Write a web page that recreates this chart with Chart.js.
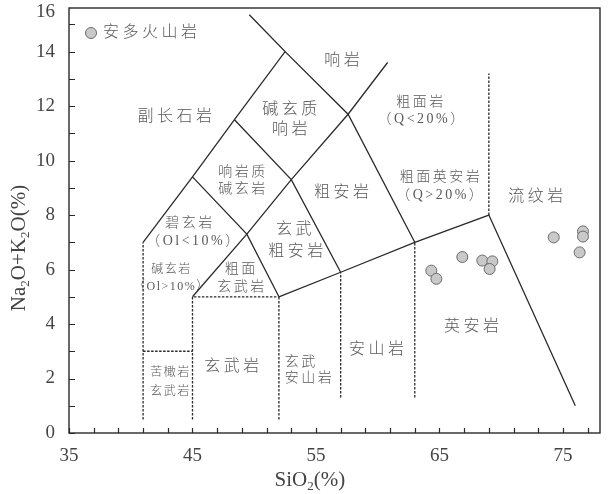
<!DOCTYPE html>
<html><head><meta charset="utf-8">
<script src="https://cdn.jsdelivr.net/npm/chart.js@4.4.1/dist/chart.umd.min.js"></script>
<style>html,body{margin:0;padding:0;background:#fff;overflow:hidden}</style>
</head><body>
<canvas id="c" width="611" height="494"></canvas>
<script>
// ---- data ----
const seriesName = '安多火山岩';
const sio2   = [64.34, 64.75, 66.85, 68.47, 69.28, 69.06, 74.25, 76.62, 76.62, 76.35];
const alkali = [5.96, 5.66, 6.46, 6.33, 6.30, 6.02, 7.18, 7.40, 7.21, 6.63];

const xTickValues = [35,37,39,41,43,45,47,49,51,53,55,57,59,61,63,65,67,69,71,73,75,77];
const xLabelValues = [35,45,55,65,75];
const yTickValues = [0,1,2,3,4,5,6,7,8,9,10,11,12,13,14,15,15.45];
const yLabelValues = [0,2,4,6,8,10,12,14,15.45];
const yTickLabels  = ['0','2','4','6','8','10','12','14','16'];
const xTitle = 'SiO₂(%)';
const yTitle = 'Na₂O+K₂O(%)';

// TAS field boundaries [SiO2, Na2O+K2O]
const solidBoundaries = [
  [[41,7],[45,9.4],[48.4,11.5],[52.5,14],[49.6,15.35]],
  [[45,5],[49.4,7.3],[53,9.3],[57.6,11.7],[60.8,13.6]],
  [[52,5],[49.4,7.3],[45,9.4]],
  [[57,5.9],[53,9.3],[48.4,11.5]],
  [[63,7],[57.6,11.7],[52.5,14]],
  [[52,5],[57,5.9],[63,7],[69,8],[76,1]]
];
const dashedBoundaries = [
  [[41,0.5],[41,7]],
  [[41,3],[45,3]],
  [[45,0.5],[45,5],[52,5]],
  [[52,0.5],[52,5]],
  [[57,1.3],[57,5.9]],
  [[63,1.3],[63,7]],
  [[69,8],[69,13.2]]
];

// field names [text, SiO2, alkali, size, align]
const fieldLabels = [
  ['副长石岩', 43.56, 11.60, 'L'],
  ['响岩', 57.1, 13.66, 'L'],
  ['碱玄质', 52.87, 11.86, 'L'],
  ['响岩', 52.87, 11.13, 'L'],
  ['响岩质', 48.98, 9.55, 'M'],
  ['碱玄岩', 48.98, 8.93, 'M'],
  ['粗面岩', 63.4, 12.12, 'M'],
  ['（Q<20%）', 63.5, 11.53, 'M'],
  ['粗面英安岩', 65.02, 9.37, 'M'],
  ['（Q>20%）', 65.0, 8.74, 'M'],
  ['粗安岩', 57.06, 8.82, 'L'],
  ['碧玄岩', 44.69, 7.71, 'M'],
  ['（Ol<10%）', 45.02, 7.05, 'M'],
  ['玄武', 53.2, 7.46, 'L'],
  ['粗安岩', 53.36, 6.66, 'L'],
  ['碱玄岩', 43.23, 5.99, 'S'],
  ['（Ol>10%）', 43.23, 5.37, 'S'],
  ['粗面', 48.84, 5.99, 'M'],
  ['玄武岩', 48.9, 5.33, 'M'],
  ['流纹岩', 72.79, 8.67, 'L'],
  ['英安岩', 67.6, 3.90, 'L'],
  ['安山岩', 59.9, 3.06, 'L'],
  ['玄武岩', 48.18, 2.43, 'L'],
  ['玄武', 52.47, 2.58, 'M', 'left'],
  ['安山岩', 52.47, 1.99, 'M', 'left'],
  ['苦橄岩', 43.15, 2.21, 'S'],
  ['玄武岩', 43.15, 1.52, 'S']
];

// ---- styles ----
const LINE = '#2a2a2a';
const TEXT = '#5a5a5a';
const FONT_SIZES = {L:[16,3.5], M:[14,2.5], S:[12,1.5]};
const CJK = '"Liberation Serif", "Noto Sans CJK SC", serif';

const pts = sio2.map((x,i)=>({x, y: alkali[i]}));
const datasets = [{
  label: seriesName,
  data: pts,
  pointRadius: 5.5,
  pointBackgroundColor: '#c9c9c9',
  pointBorderColor: '#6a6a6a',
  pointBorderWidth: 1,
  showLine: false,
  order: 0
}];
solidBoundaries.forEach(seg => datasets.push({
  label: '', data: seg.map(p=>({x:p[0], y:p[1]})), showLine: true,
  borderColor: LINE, borderWidth: 1.3, pointRadius: 0, fill: false, tension: 0, order: 2
}));
dashedBoundaries.forEach(seg => datasets.push({
  label: '', data: seg.map(p=>({x:p[0], y:p[1]})), showLine: true,
  borderColor: LINE, borderWidth: 1.3, borderDash: [2.5,1.5], pointRadius: 0, fill: false, tension: 0, order: 2
}));

function drawSubText(ctx, str, size, cx, cy) {
  const parts = [];
  for (const ch of str) {
    const sub = ch === '₂';
    const c = sub ? '2' : ch;
    if (parts.length && parts[parts.length-1].sub === sub) parts[parts.length-1].t += c;
    else parts.push({t:c, sub});
  }
  const fN = size + 'px "Liberation Serif"';
  const fS = Math.round(size*0.62) + 'px "Liberation Serif"';
  let w = 0;
  parts.forEach(p => { ctx.font = p.sub ? fS : fN; p.w = ctx.measureText(p.t).width; w += p.w; });
  let x = cx - w/2;
  ctx.textAlign = 'left'; ctx.textBaseline = 'middle';
  parts.forEach(p => {
    ctx.font = p.sub ? fS : fN;
    ctx.fillText(p.t, x, cy + (p.sub ? size*0.3 : 0));
    x += p.w;
  });
}

const decor = {
  id: 'decor',
  beforeDatasetsDraw(chart) {
    const {ctx, chartArea: a, scales: {x, y}} = chart;
    ctx.save();
    // frame
    ctx.strokeStyle = LINE; ctx.lineWidth = 1.4;
    ctx.strokeRect(a.left, a.top, a.right - a.left, a.bottom - a.top);
    // inward ticks
    ctx.lineWidth = 1.2;
    ctx.beginPath();
    xTickValues.forEach(v => { const px = Math.round(x.getPixelForValue(v)) + 0.5; ctx.moveTo(px, a.bottom); ctx.lineTo(px, a.bottom - 5); });
    yTickValues.forEach(v => { if (v > 15) return; const py = Math.round(y.getPixelForValue(v)) + 0.5; ctx.moveTo(a.left, py); ctx.lineTo(a.left + 6, py); });
    ctx.stroke();
    // field labels
    ctx.fillStyle = TEXT;
    ctx.textBaseline = 'middle';
    fieldLabels.forEach(([t, vx, vy, s, al]) => {
      const [fs, ls] = FONT_SIZES[s];
      ctx.font = '300 ' + fs + 'px ' + CJK;
      try { ctx.letterSpacing = ls + 'px'; } catch(e) {}
      ctx.textAlign = al || 'center';
      const px = x.getPixelForValue(vx) + (al ? 0 : ls/2);
      ctx.fillText(t, px, y.getPixelForValue(vy));
    });
    try { ctx.letterSpacing = '0px'; } catch(e) {}
    // axis titles
    ctx.fillStyle = '#444';
    drawSubText(ctx, xTitle, 21, x.getPixelForValue(54.5), 480);
    ctx.save();
    ctx.translate(19, 248);
    ctx.rotate(-Math.PI/2);
    drawSubText(ctx, yTitle, 21, 0, 0);
    ctx.restore();
    ctx.restore();
  },
  afterDatasetsDraw(chart) {
    const {ctx, chartArea: a} = chart;
    const ds = chart.data.datasets[0];
    ctx.save();
    const cx = a.left + 22, cy = a.top + 25;
    ctx.beginPath(); ctx.arc(cx, cy, ds.pointRadius, 0, Math.PI*2);
    ctx.fillStyle = ds.pointBackgroundColor; ctx.fill();
    ctx.lineWidth = ds.pointBorderWidth; ctx.strokeStyle = ds.pointBorderColor; ctx.stroke();
    ctx.fillStyle = TEXT;
    ctx.font = '300 16px ' + CJK;
    try { ctx.letterSpacing = '3.5px'; } catch(e) {}
    ctx.textAlign = 'left'; ctx.textBaseline = 'middle';
    ctx.fillText(ds.label, cx + 12, cy);
    ctx.restore();
  }
};

new Chart(document.getElementById('c'), {
  type: 'scatter',
  data: { datasets },
  options: {
    responsive: false,
    animation: false,
    devicePixelRatio: 1,
    layout: { autoPadding: false, padding: { left: 0, top: 8, right: 11, bottom: 0 } },
    plugins: { legend: { display: false }, tooltip: { enabled: false } },
    scales: {
      x: {
        type: 'linear', min: 35, max: 78,
        afterBuildTicks: s => { s.ticks = xTickValues.map(v => ({value: v})); },
        afterFit: s => { s.height = 61; s.paddingLeft = 0; s.paddingRight = 0; },
        grid: { display: false, drawTicks: false },
        border: { display: false },
        ticks: {
          autoSkip: false, maxRotation: 0, padding: 12, color: '#444',
          font: { family: 'Liberation Serif', size: 19 },
          callback: v => xLabelValues.includes(v) ? String(v) : ''
        }
      },
      y: {
        type: 'linear', min: 0, max: 15.6,
        afterBuildTicks: s => { s.ticks = yTickValues.map(v => ({value: v})); },
        afterFit: s => { s.width = 69; s.paddingTop = 0; s.paddingBottom = 0; },
        grid: { display: false, drawTicks: false },
        border: { display: false },
        ticks: {
          autoSkip: false, padding: 14, color: '#444',
          font: { family: 'Liberation Serif', size: 19 },
          callback: v => { const i = yLabelValues.indexOf(v); return i >= 0 ? yTickLabels[i] : ''; }
        }
      }
    }
  },
  plugins: [decor]
});
</script>
</body></html>
